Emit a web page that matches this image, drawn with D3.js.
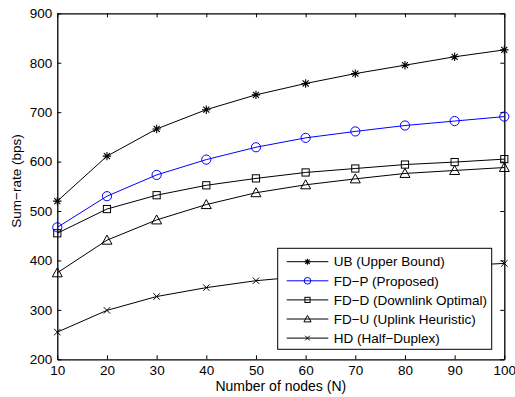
<!DOCTYPE html>
<html>
<head>
<meta charset="utf-8">
<script src="https://cdnjs.cloudflare.com/ajax/libs/d3/7.8.5/d3.min.js"></script>
<style>
  body { margin: 0; background: #fff; }
  text { font-family: "Liberation Sans", Arial, sans-serif; }
</style>
</head>
<body>
<div id="chart"></div>
<script>
var nodes = [10, 20, 30, 40, 50, 60, 70, 80, 90, 100];
var ub  = [520, 611, 666, 705, 735, 758, 778, 795, 812, 826];
var fdp = [467, 530, 573, 604, 629, 648, 661, 673, 682, 691];
var fdd = [455, 504, 532, 552, 566, 578, 586, 594, 599, 605];
var fdu = [375, 441, 482, 513, 537, 553, 565, 576, 582, 588];
var hd  = [255, 299, 327, 345, 359, 368, 376, 383, 389, 394];
var xTicks = [10, 20, 30, 40, 50, 60, 70, 80, 90, 100];
var yTicks = [200, 300, 400, 500, 600, 700, 800, 900];

var series = [
  { name: "UB (Upper Bound)", values: ub, color: "#000", marker: "star" },
  { name: "FD\u2212P (Proposed)", values: fdp, color: "#0000ff", marker: "circle" },
  { name: "FD\u2212D (Downlink Optimal)", values: fdd, color: "#000", marker: "square" },
  { name: "FD\u2212U (Uplink Heuristic)", values: fdu, color: "#000", marker: "triangle" },
  { name: "HD (Half\u2212Duplex)", values: hd, color: "#000", marker: "cross" }
];

var width = 515, height = 397;
var margin = { left: 57.3, right: 10.7, top: 13.3, bottom: 37.7 };

var svg = d3.select("#chart")
    .append("svg")
    .attr("width", width)
    .attr("height", height);

var x = d3.scaleLinear().domain([10, 100]).range([margin.left, width - margin.right]);
var y = d3.scaleLinear().domain([200, 900]).range([height - margin.bottom, margin.top]);

// draw one marker at (cx, cy), s = scale factor
function drawMarker(g, type, cx, cy, color, s) {
    if (type == "circle") {
        g.append("circle").attr("cx", cx).attr("cy", cy).attr("r", 4.6 * s)
            .attr("fill", "none").attr("stroke", color).attr("stroke-width", 1);
    } else if (type == "square") {
        var h = 3.6 * s;
        g.append("rect").attr("x", cx - h).attr("y", cy - h).attr("width", 2 * h).attr("height", 2 * h)
            .attr("fill", "none").attr("stroke", color).attr("stroke-width", 1);
    } else if (type == "triangle") {
        var r = 5 * s;
        g.append("path")
            .attr("d", "M" + cx + "," + (cy - r) + "L" + (cx + r) + "," + (cy + r * 0.8) + "L" + (cx - r) + "," + (cy + r * 0.8) + "Z")
            .attr("fill", "none").attr("stroke", color).attr("stroke-width", 1);
    } else if (type == "cross") {
        var c = 3.2 * s;
        g.append("path")
            .attr("d", "M" + (cx - c) + "," + (cy - c) + "L" + (cx + c) + "," + (cy + c) + "M" + (cx - c) + "," + (cy + c) + "L" + (cx + c) + "," + (cy - c))
            .attr("stroke", color).attr("stroke-width", 1);
    } else if (type == "star") {
        var a = 4.2 * s, d = a * 0.72;
        g.append("path")
            .attr("d", "M" + (cx - a) + "," + cy + "L" + (cx + a) + "," + cy +
                "M" + cx + "," + (cy - a) + "L" + cx + "," + (cy + a) +
                "M" + (cx - d) + "," + (cy - d) + "L" + (cx + d) + "," + (cy + d) +
                "M" + (cx - d) + "," + (cy + d) + "L" + (cx + d) + "," + (cy - d))
            .attr("stroke", color).attr("stroke-width", 1.1);
    }
}

// axes with inward ticks
var xAxis = svg.append("g")
    .attr("transform", "translate(0," + y(200) + ")")
    .call(d3.axisBottom(x).tickValues(xTicks).tickSizeInner(-4).tickSizeOuter(0).tickPadding(6));
var yAxis = svg.append("g")
    .attr("transform", "translate(" + x(10) + ",0)")
    .call(d3.axisLeft(y).tickValues(yTicks).tickSizeInner(-4).tickSizeOuter(0).tickPadding(5));
svg.append("g")
    .attr("transform", "translate(0," + y(900) + ")")
    .call(d3.axisTop(x).tickValues(xTicks).tickSizeInner(-4).tickSizeOuter(0).tickFormat(""));
svg.append("g")
    .attr("transform", "translate(" + x(100) + ",0)")
    .call(d3.axisRight(y).tickValues(yTicks).tickSizeInner(-4).tickSizeOuter(0).tickFormat(""));

svg.selectAll(".domain").attr("stroke", "#000").attr("stroke-width", 1.3);
svg.selectAll(".tick line").attr("stroke", "#000");
svg.selectAll(".tick text").attr("font-size", "13.5px").attr("fill", "#000")
    .attr("font-family", "'Liberation Sans', Arial, sans-serif");
xAxis.selectAll(".tick text").attr("dy", "0.75em");

// lines + markers
var line = d3.line()
    .x(function(d, i) { return x(nodes[i]); })
    .y(function(d) { return y(d); });

series.forEach(function(s) {
    var g = svg.append("g");
    g.append("path")
        .datum(s.values)
        .attr("d", line)
        .attr("fill", "none")
        .attr("stroke", s.color)
        .attr("stroke-width", 1);
    s.values.forEach(function(v, i) {
        drawMarker(g, s.marker, x(nodes[i]), y(v), s.color, 1);
    });
});

// legend
var lg = svg.append("g");
var lx = 277.7, ly = 248.3, lw = 214, lh = 101;
lg.append("rect").attr("x", lx).attr("y", ly).attr("width", lw).attr("height", lh)
    .attr("fill", "#fff").attr("stroke", "#000").attr("stroke-width", 1);
series.forEach(function(s, i) {
    var yy = ly + 13.4 + i * 19.1;
    lg.append("line").attr("x1", lx + 9).attr("x2", lx + 50.6).attr("y1", yy).attr("y2", yy)
        .attr("stroke", s.color).attr("stroke-width", 1);
    drawMarker(lg, s.marker, lx + 29.8, yy, s.color, 0.72);
    lg.append("text").attr("x", lx + 56).attr("y", yy).attr("dy", "0.35em")
        .attr("font-size", "13.5px").text(s.name);
});

// axis labels
svg.append("text")
    .attr("x", (x(10) + x(100)) / 2).attr("y", 391)
    .attr("text-anchor", "middle").attr("font-size", "14px")
    .text("Number of nodes (N)");
svg.append("text")
    .attr("transform", "translate(21,181) rotate(-90)")
    .attr("text-anchor", "middle").attr("font-size", "13.5px")
    .text("Sum\u2212rate (bps)");
</script>
</body>
</html>
